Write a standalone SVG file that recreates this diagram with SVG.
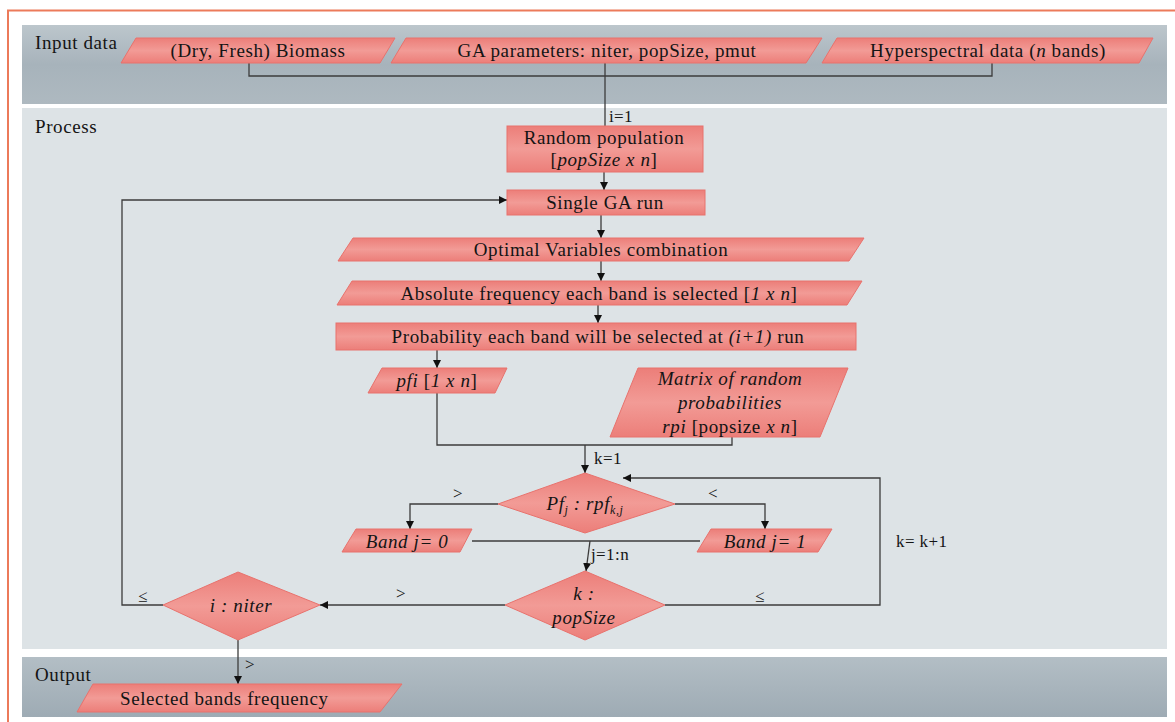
<svg xmlns="http://www.w3.org/2000/svg" width="1175" height="722" viewBox="0 0 1175 722">
<defs>
<linearGradient id="gIn" x1="0" y1="0" x2="0" y2="1">
<stop offset="0" stop-color="#bcc6cc"/>
<stop offset="0.5" stop-color="#a7b3bb"/>
<stop offset="1" stop-color="#aeb9c0"/>
</linearGradient>
<linearGradient id="gOut" x1="0" y1="0" x2="0" y2="1">
<stop offset="0" stop-color="#b3bec5"/>
<stop offset="1" stop-color="#9eabb4"/>
</linearGradient>
<linearGradient id="gBox" x1="0" y1="0" x2="0" y2="1">
<stop offset="0" stop-color="#ec7e79"/>
<stop offset="0.5" stop-color="#f29b96"/>
<stop offset="1" stop-color="#ec7e79"/>
</linearGradient>
<marker id="arr" markerWidth="8" markerHeight="8" refX="8" refY="4" orient="auto" markerUnits="userSpaceOnUse">
<path d="M0,0 L8,4 L0,8 z" fill="#111"/>
</marker>
</defs>
<style>
.t{font-family:"Liberation Serif","Times New Roman",serif;font-size:19px;letter-spacing:0.6px;fill:#141414}
.c{text-anchor:middle}
.i{font-style:italic}
.s{font-size:17px;letter-spacing:0.4px}
.box{fill:url(#gBox);stroke:#e8726d;stroke-width:1}
.ln{fill:none;stroke:#3c3c3c;stroke-width:1.3}
.ar{marker-end:url(#arr)}
</style>
<rect width="1175" height="722" fill="#ffffff"/>
<path d="M8,722 V10.5 H1175" fill="none" stroke="#ec7a5a" stroke-width="2"/>
<g id="bands">
<rect x="22" y="25" width="1145" height="79" fill="url(#gIn)"/>
<rect x="22" y="108" width="1145" height="541" fill="#dde3e6"/>
<rect x="22" y="657" width="1145" height="60" fill="url(#gOut)"/>
<text class="t" x="35" y="49">Input data</text>
<text class="t" x="35" y="133">Process</text>
<text class="t" x="35" y="681">Output</text>
</g>
<g id="connectors">
<path class="ln" d="M249,63 V76 H992 V63"/>
<path class="ln" d="M605,63 V126"/>
<path class="ln ar" d="M604,172 V190"/>
<path class="ln ar" d="M163,605 H122 V200 H507"/>
<path class="ln ar" d="M601,215 V238"/>
<path class="ln ar" d="M601,261 V281"/>
<path class="ln ar" d="M598,305 V323"/>
<path class="ln ar" d="M437,350 V368"/>
<path class="ln" d="M437,393 V445 H732 V437"/>
<path class="ln ar" d="M585,445 V473"/>
<path class="ln ar" d="M498,504 H410 V529"/>
<path class="ln ar" d="M675,504 H765 V529"/>
<path class="ln" d="M472,541 H700"/>
<path class="ln ar" d="M590,541 L586,571"/>
<path class="ln ar" d="M665,605 H880 V478 H623"/>
<path class="ln ar" d="M505,605 H320"/>
<path class="ln ar" d="M238,640 V684"/>
<text class="t s" x="609" y="122">i=1</text>
<text class="t s" x="594" y="464">k=1</text>
<text class="t s" x="453" y="499">&gt;</text>
<text class="t s" x="708" y="499">&lt;</text>
<text class="t s" x="591" y="560">j=1:n</text>
<text class="t s" x="755" y="602">≤</text>
<text class="t s" x="396" y="599">&gt;</text>
<text class="t s" x="138" y="602">≤</text>
<text class="t s" x="245" y="670">&gt;</text>
<text class="t s" x="896" y="547">k= k+1</text>
</g>
<g id="n-biomass">
<polygon class="box" points="121,63 136,38 395,38 380,63"/>
<text class="t c" x="258" y="57">(Dry, Fresh) Biomass</text>
</g>
<g id="n-ga">
<polygon class="box" points="391,63 406,38 822,38 806,63"/>
<text class="t c" x="607" y="57">GA parameters: niter, popSize, pmut</text>
</g>
<g id="n-hyper">
<polygon class="box" points="822,63 837,38 1153,38 1139,63"/>
<text class="t c" x="988" y="57">Hyperspectral data (<tspan class="i">n</tspan> bands)</text>
</g>
<g id="n-random">
<rect class="box" x="507" y="126" width="196" height="46"/>
<text class="t c" x="604" y="144">Random population</text>
<text class="t c" x="604" y="166">[<tspan class="i">popSize x n</tspan>]</text>
</g>
<g id="n-single">
<rect class="box" x="507" y="190" width="198" height="25"/>
<text class="t c" x="605" y="209">Single GA run</text>
</g>
<g id="n-optimal">
<polygon class="box" points="338,261 353,238 864,238 849,261"/>
<text class="t c" x="601" y="256">Optimal Variables combination</text>
</g>
<g id="n-absolute">
<polygon class="box" points="337,305 352,281 862,281 847,305"/>
<text class="t c" x="599" y="300">Absolute frequency each band is selected [<tspan class="i">1 x n</tspan>]</text>
</g>
<g id="n-probability">
<rect class="box" x="336" y="323" width="520" height="27"/>
<text class="t c" x="598" y="343">Probability each band will be selected at  <tspan class="i">(i+1)</tspan> run</text>
</g>
<g id="n-pfi">
<polygon class="box" points="368,393 382,368 507,368 495,393"/>
<text class="t c" x="437" y="387"><tspan class="i">pfi</tspan> [<tspan class="i">1 x n</tspan>]</text>
</g>
<g id="n-matrix">
<polygon class="box" points="610,437 638,368 848,368 820,437"/>
<text class="t c i" x="730" y="385">Matrix of random</text>
<text class="t c i" x="730" y="409">probabilities</text>
<text class="t c" x="730" y="433"><tspan class="i">rpi</tspan> [popsize <tspan class="i">x n</tspan>]</text>
</g>
<g id="n-cmp">
<polygon class="box" points="585,473 675,504 585,533 498,504"/>
<text class="t c i" x="585" y="510">Pf<tspan dy="4" font-size="12">j</tspan><tspan dy="-4"> : rpf</tspan><tspan dy="4" font-size="12">k,j</tspan></text>
</g>
<g id="n-band0">
<polygon class="box" points="342,552 356,529 472,529 460,552"/>
<text class="t c i" x="407" y="548">Band j= 0</text>
</g>
<g id="n-band1">
<polygon class="box" points="697,552 711,529 832,529 818,552"/>
<text class="t c i" x="765" y="548">Band j= 1</text>
</g>
<g id="n-kpop">
<polygon class="box" points="585,571 665,605 585,640 505,605"/>
<text class="t c i" x="584" y="600">k :</text>
<text class="t c i" x="584" y="624">popSize</text>
</g>
<g id="n-initer">
<polygon class="box" points="238,572 320,605 238,640 163,605"/>
<text class="t c i" x="241" y="612">i : niter</text>
</g>
<g id="n-selected">
<polygon class="box" points="77,712 93,684 402,684 380,712"/>
<text class="t" x="120" y="705">Selected bands frequency</text>
</g>
</svg>
